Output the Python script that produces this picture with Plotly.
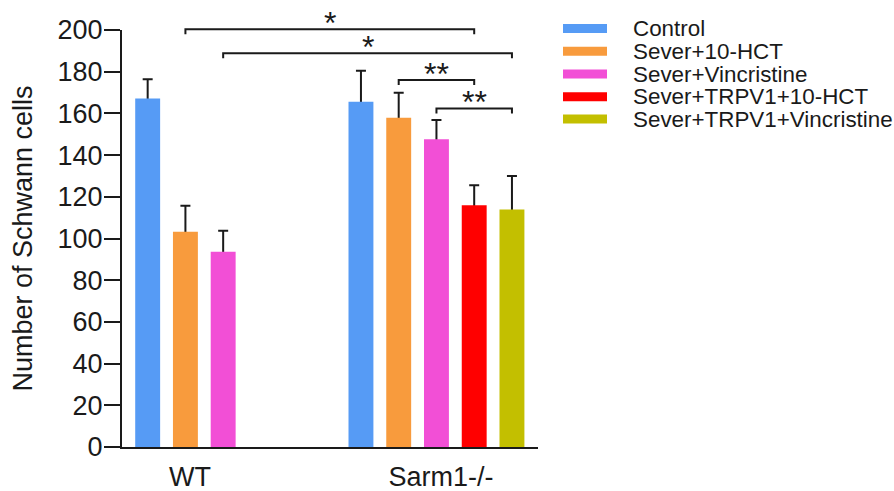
import plotly.graph_objects as go

# ---------------- data ----------------
groups = ["WT", "Sarm1-/-"]
series_names = ["Control", "Sever+10-HCT", "Sever+Vincristine",
                "Sever+TRPV1+10-HCT", "Sever+TRPV1+Vincristine"]
series_colors = ["#569BF5", "#F89B3D", "#F24FD6", "#FF0000", "#C3BF00"]

control_mean = [167.2, 165.6]
control_sd = [9.2, 14.8]
hct_mean = [103.2, 157.9]
hct_sd = [12.5, 12.0]
vinc_mean = [93.6, 147.6]
vinc_sd = [10.1, 9.2]
trpv1_hct_mean = [None, 116.0]
trpv1_hct_sd = [None, 9.5]
trpv1_vinc_mean = [None, 113.9]
trpv1_vinc_sd = [None, 16.1]

means = [control_mean, hct_mean, vinc_mean, trpv1_hct_mean, trpv1_vinc_mean]
sds = [control_sd, hct_sd, vinc_sd, trpv1_hct_sd, trpv1_vinc_sd]

y_tick_vals = [0, 20, 40, 60, 80, 100, 120, 140, 160, 180, 200]
y_title = "Number of Schwann cells"

# significance brackets: (group_a, series_a, group_b, series_b, height, label)
sig_brackets = [
    (0, 1, 1, 3, 200.4, "*"),
    (0, 2, 1, 4, 188.8, "*"),
    (1, 1, 1, 3, 176.0, "**"),
    (1, 2, 1, 4, 162.4, "**"),
]

# ---------------- layout constants ----------------
W, H = 894, 491
PLOT_L, PLOT_R, PLOT_T, PLOT_B = 122, 538, 30, 447   # target pixel box in the window
M_L, M_T = PLOT_L, PLOT_T
M_R, M_B = W - PLOT_R, H - PLOT_B
Y_MAX = 200
group_offset = [0.0, 5.65]      # position of the first bar of each group (bar slots)
bar_w = 0.66
x_range = [-0.68, 10.34]
FONT = "Liberation Sans, Arial, sans-serif"
INK = "#1a1a1a"


def xpos(g, s):
    return group_offset[g] + s


def px_to_paper_x(px):
    return (px - PLOT_L) / (PLOT_R - PLOT_L)


def px_to_paper_y(py):
    return (PLOT_B - py) / (PLOT_B - PLOT_T)


fig = go.Figure()

# error bars carried by transparent bars, drawn first so the coloured bars cover the lower half
for s, (m, sd) in enumerate(zip(means, sds)):
    xs = [xpos(g, s) for g in range(len(groups))]
    fig.add_trace(go.Bar(
        x=xs, y=m, width=bar_w,
        marker=dict(color="rgba(0,0,0,0)", line=dict(width=0)),
        error_y=dict(type="data", array=sd, visible=True, color=INK, thickness=2, width=5),
        showlegend=False, hoverinfo="skip"))

for s, (name, m, col) in enumerate(zip(series_names, means, series_colors)):
    xs = [xpos(g, s) for g in range(len(groups))]
    fig.add_trace(go.Bar(
        x=xs, y=m, width=bar_w, name=name,
        marker=dict(color=col, line=dict(width=0)),
        showlegend=False))

# significance brackets
drop = 2.4
for ga, sa, gb, sb, h, lab in sig_brackets:
    x0, x1 = xpos(ga, sa), xpos(gb, sb)
    y = h / Y_MAX
    yd = (h - drop) / Y_MAX
    fig.add_shape(type="path", xref="x", yref="paper",
                  path=f"M {x0},{yd} L {x0},{y} L {x1},{y} L {x1},{yd}",
                  line=dict(color=INK, width=2))
    fig.add_annotation(x=(x0 + x1) / 2, xref="x", y=y, yref="paper",
                       text=lab, showarrow=False, yanchor="middle", yshift=6,
                       font=dict(family=FONT, size=32, color=INK))

# manual legend (tight row spacing like the original)
leg_rows_px = [28.5, 51.2, 74, 96.8, 119]
for name, col, ry in zip(series_names, series_colors, leg_rows_px):
    fig.add_shape(type="rect", xref="paper", yref="paper",
                  x0=px_to_paper_x(563), x1=px_to_paper_x(607),
                  y0=px_to_paper_y(ry + 4.5), y1=px_to_paper_y(ry - 4.5),
                  fillcolor=col, line=dict(width=0))
    fig.add_annotation(x=px_to_paper_x(631), y=px_to_paper_y(ry), xref="paper", yref="paper",
                       xanchor="left", yanchor="middle", text=name, showarrow=False,
                       font=dict(family=FONT, size=22.4, color=INK))

group_centers = [xpos(g, (sum(1 for m in means if m[g] is not None) - 1) / 2)
                 for g in range(len(groups))]
label_nudge = 0.12

fig.update_layout(
    width=W, height=H,
    margin=dict(l=M_L, r=M_R, t=M_T, b=M_B, autoexpand=False),
    paper_bgcolor="white", plot_bgcolor="white",
    barmode="overlay", showlegend=False,
    font=dict(family=FONT, color=INK),
    xaxis=dict(range=x_range, showline=True, linecolor=INK, linewidth=2,
               showgrid=False, zeroline=False,
               tickmode="array", tickvals=[c + label_nudge for c in group_centers], ticktext=groups,
               ticks="outside", ticklen=5, tickcolor="rgba(0,0,0,0)",
               tickfont=dict(family=FONT, size=27, color=INK)),
    yaxis=dict(range=[0, Y_MAX], showline=True, linecolor=INK, linewidth=2,
               showgrid=False, zeroline=False,
               tickmode="array", tickvals=y_tick_vals,
               ticks="outside", ticklen=16, tickwidth=2, tickcolor=INK,
               ticklabelstandoff=-4,
               tickfont=dict(family=FONT, size=27, color=INK),
               title=dict(text=y_title, font=dict(family=FONT, size=27, color=INK), standoff=17)),
)

fig.write_html(
    "out.html",
    config={"displayModeBar": False},
    post_script="document.body.style.margin='0';document.body.style.overflow='hidden';",
)
